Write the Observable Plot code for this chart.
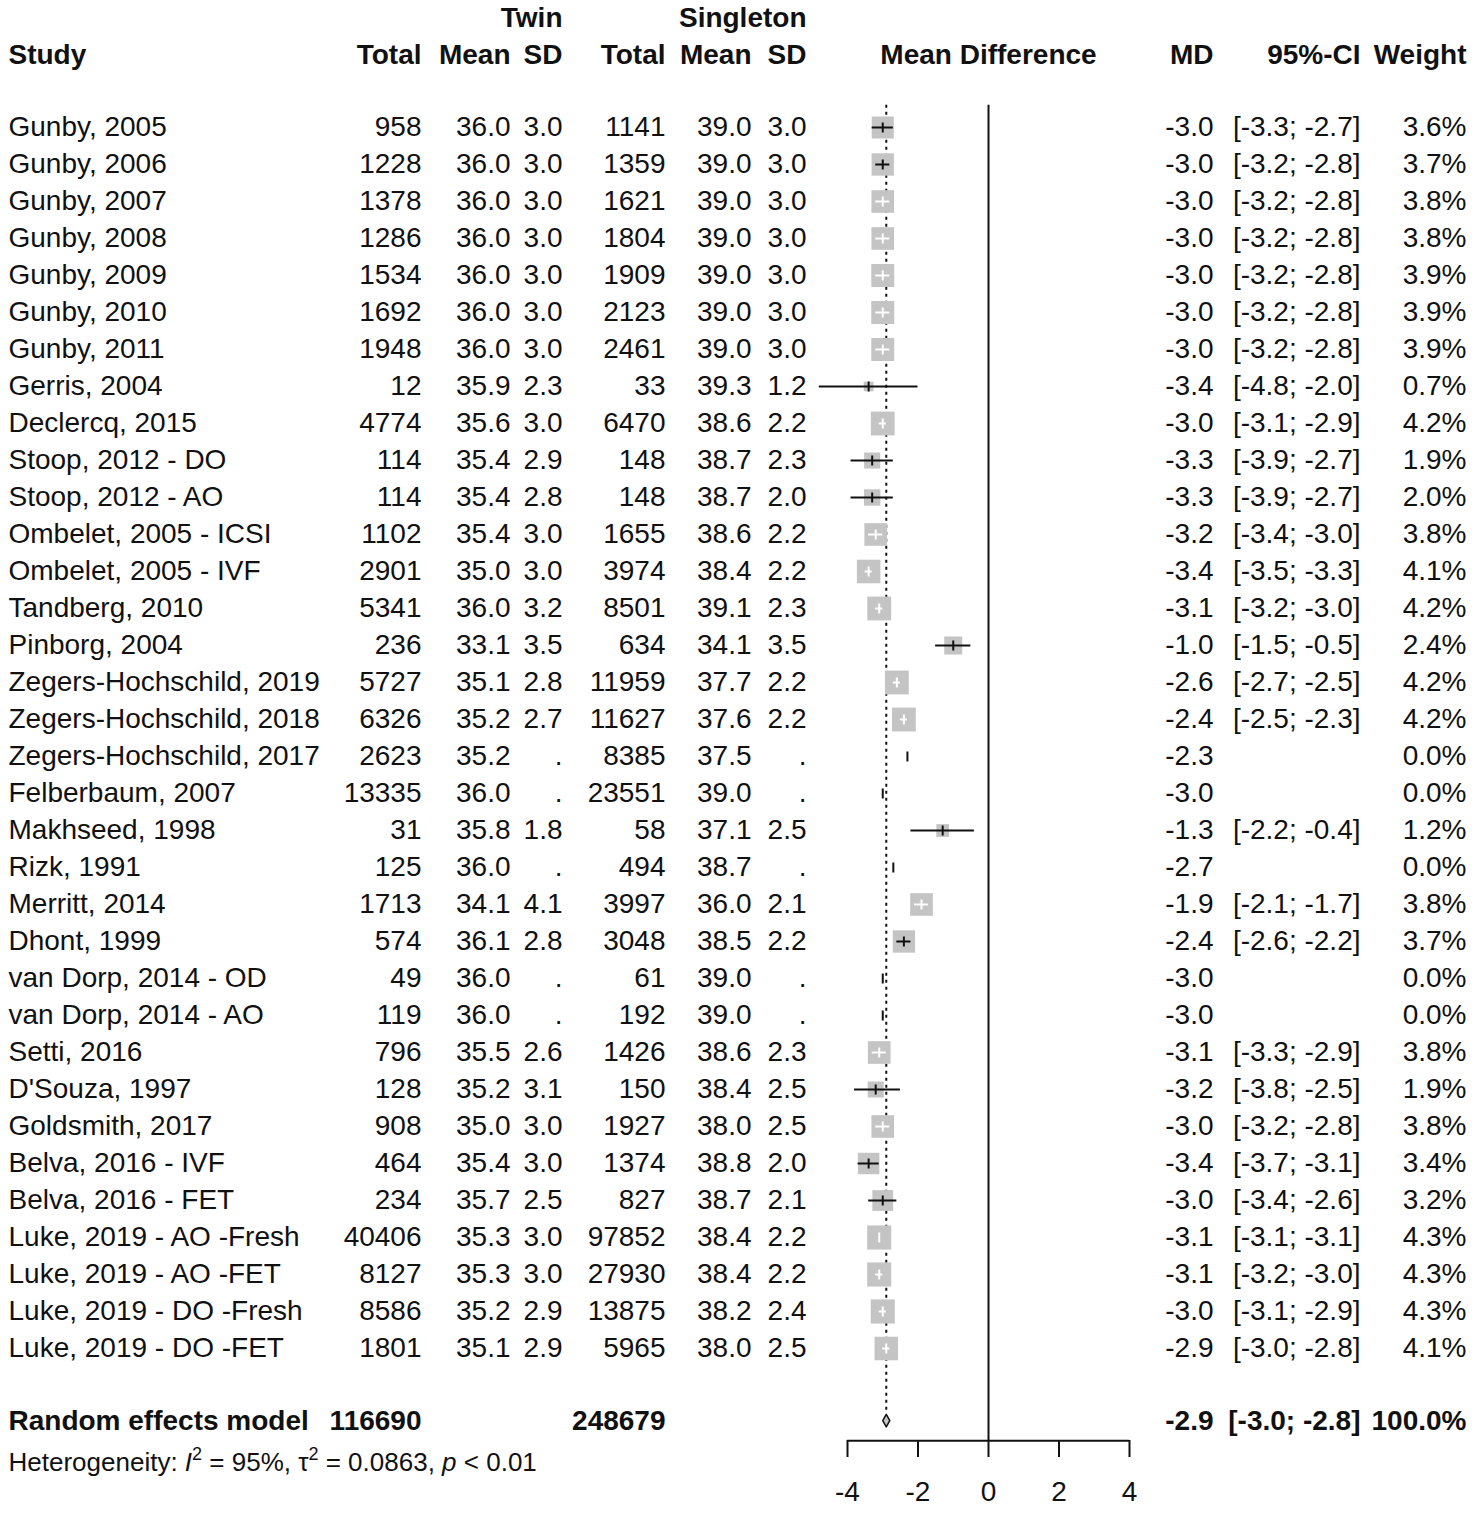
<!DOCTYPE html>
<html>
<head>
<meta charset="utf-8">
<script src="https://cdn.jsdelivr.net/npm/d3@7"></script>
<script src="https://cdn.jsdelivr.net/npm/@observablehq/plot@0.6"></script>
<style>
  html, body { margin: 0; padding: 0; background: #fff; }
</style>
</head>
<body>
<div id="chart"></div>
<script>
// ---------------- DATA ----------------
const studies = [
  "Gunby, 2005", "Gunby, 2006", "Gunby, 2007", "Gunby, 2008", "Gunby, 2009",
  "Gunby, 2010", "Gunby, 2011", "Gerris, 2004", "Declercq, 2015", "Stoop, 2012 - DO",
  "Stoop, 2012 - AO", "Ombelet, 2005 - ICSI", "Ombelet, 2005 - IVF", "Tandberg, 2010", "Pinborg, 2004",
  "Zegers-Hochschild, 2019", "Zegers-Hochschild, 2018", "Zegers-Hochschild, 2017", "Felberbaum, 2007", "Makhseed, 1998",
  "Rizk, 1991", "Merritt, 2014", "Dhont, 1999", "van Dorp, 2014 - OD", "van Dorp, 2014 - AO",
  "Setti, 2016", "D'Souza, 1997", "Goldsmith, 2017", "Belva, 2016 - IVF", "Belva, 2016 - FET",
  "Luke, 2019 - AO -Fresh", "Luke, 2019 - AO -FET", "Luke, 2019 - DO -Fresh", "Luke, 2019 - DO -FET"
];
const twinTotal = [958, 1228, 1378, 1286, 1534, 1692, 1948, 12, 4774, 114, 114, 1102, 2901, 5341, 236,
  5727, 6326, 2623, 13335, 31, 125, 1713, 574, 49, 119, 796, 128, 908, 464, 234, 40406, 8127, 8586, 1801];
const twinMean = [36.0, 36.0, 36.0, 36.0, 36.0, 36.0, 36.0, 35.9, 35.6, 35.4, 35.4, 35.4, 35.0, 36.0, 33.1,
  35.1, 35.2, 35.2, 36.0, 35.8, 36.0, 34.1, 36.1, 36.0, 36.0, 35.5, 35.2, 35.0, 35.4, 35.7, 35.3, 35.3, 35.2, 35.1];
const twinSD = [3.0, 3.0, 3.0, 3.0, 3.0, 3.0, 3.0, 2.3, 3.0, 2.9, 2.8, 3.0, 3.0, 3.2, 3.5,
  2.8, 2.7, null, null, 1.8, null, 4.1, 2.8, null, null, 2.6, 3.1, 3.0, 3.0, 2.5, 3.0, 3.0, 2.9, 2.9];
const singTotal = [1141, 1359, 1621, 1804, 1909, 2123, 2461, 33, 6470, 148, 148, 1655, 3974, 8501, 634,
  11959, 11627, 8385, 23551, 58, 494, 3997, 3048, 61, 192, 1426, 150, 1927, 1374, 827, 97852, 27930, 13875, 5965];
const singMean = [39.0, 39.0, 39.0, 39.0, 39.0, 39.0, 39.0, 39.3, 38.6, 38.7, 38.7, 38.6, 38.4, 39.1, 34.1,
  37.7, 37.6, 37.5, 39.0, 37.1, 38.7, 36.0, 38.5, 39.0, 39.0, 38.6, 38.4, 38.0, 38.8, 38.7, 38.4, 38.4, 38.2, 38.0];
const singSD = [3.0, 3.0, 3.0, 3.0, 3.0, 3.0, 3.0, 1.2, 2.2, 2.3, 2.0, 2.2, 2.2, 2.3, 3.5,
  2.2, 2.2, null, null, 2.5, null, 2.1, 2.2, null, null, 2.3, 2.5, 2.5, 2.0, 2.1, 2.2, 2.2, 2.4, 2.5];
const md = [-3.0, -3.0, -3.0, -3.0, -3.0, -3.0, -3.0, -3.4, -3.0, -3.3, -3.3, -3.2, -3.4, -3.1, -1.0,
  -2.6, -2.4, -2.3, -3.0, -1.3, -2.7, -1.9, -2.4, -3.0, -3.0, -3.1, -3.2, -3.0, -3.4, -3.0, -3.1, -3.1, -3.0, -2.9];
const ciLow = [-3.3, -3.2, -3.2, -3.2, -3.2, -3.2, -3.2, -4.8, -3.1, -3.9, -3.9, -3.4, -3.5, -3.2, -1.5,
  -2.7, -2.5, null, null, -2.2, null, -2.1, -2.6, null, null, -3.3, -3.8, -3.2, -3.7, -3.4, -3.1, -3.2, -3.1, -3.0];
const ciHigh = [-2.7, -2.8, -2.8, -2.8, -2.8, -2.8, -2.8, -2.0, -2.9, -2.7, -2.7, -3.0, -3.3, -3.0, -0.5,
  -2.5, -2.3, null, null, -0.4, null, -1.7, -2.2, null, null, -2.9, -2.5, -2.8, -3.1, -2.6, -3.1, -3.0, -2.9, -2.8];
const weight = [3.6, 3.7, 3.8, 3.8, 3.9, 3.9, 3.9, 0.7, 4.2, 1.9, 2.0, 3.8, 4.1, 4.2, 2.4,
  4.2, 4.2, 0.0, 0.0, 1.2, 0.0, 3.8, 3.7, 0.0, 0.0, 3.8, 1.9, 3.8, 3.4, 3.2, 4.3, 4.3, 4.3, 4.1];

const pooledLabel = "Random effects model";
const pooledTwinTotal = 116690;
const pooledSingTotal = 248679;
const pooledMD = -2.9, pooledLow = -3.0, pooledHigh = -2.8, pooledWeight = 100.0;
const hetI2 = 95, hetTau2 = 0.0863, hetP = "< 0.01";
const xTicks = [-4, -2, 0, 2, 4];

// ---------------- LAYOUT ----------------
const W = 1481, H = 1521;
const FONT = "'Liberation Sans', Arial, Helvetica, sans-serif";
const FS = 28;
const INK = "#111";
const SQUARE = "#c4c4c4";

// vertical layout in row units (row 0 = first study, 1 row = 37px)
const GROUP_ROW = -2.97, HEADER_ROW = -1.95, TOP_ROW = -0.6;
const POOLED_ROW = 34.95, DOT_END_ROW = 34.7, AXIS_ROW = 35.49, HET_ROW = 36.08;

// text columns: right edge in px
const col = {
  study: 8, twinTotal: 421, twinMean: 510, twinSD: 562,
  singTotal: 665, singMean: 751, singSD: 806,
  md: 1213, ci: 1360, weight: 1466
};

const rows = studies.map((study, i) => ({
  row: i, study,
  tT: twinTotal[i], tM: twinMean[i], tS: twinSD[i],
  sT: singTotal[i], sM: singMean[i], sS: singSD[i],
  md: md[i], lo: ciLow[i], hi: ciHigh[i], w: weight[i]
}));

const f1 = v => v == null ? "." : v.toFixed(1);
const fCI = (lo, hi) => lo == null ? "" : `[${lo.toFixed(1)}; ${hi.toFixed(1)}]`;
const fW = w => w.toFixed(1) + "%";
const markColor = d => d.w >= 3.8 ? "#ffffff" : INK;

const vbar = {
  draw(context, size) {
    const h = Math.sqrt(size / Math.PI);
    context.moveTo(0, -h);
    context.lineTo(0, h);
  }
};

function colText(data, text, key, extra = {}) {
  return Plot.text(data, {
    frameAnchor: "left", dx: col[key], y: "row", text,
    textAnchor: "end", fontSize: FS, fill: INK, ...extra
  });
}

const headerRow = [{row: HEADER_ROW}];
const groupRow = [{row: GROUP_ROW}];
const pooledRow = [{row: POOLED_ROW}];
const bold = {fontWeight: "bold"};

const withCI = rows.filter(d => d.lo != null);
const withWeight = rows.filter(d => d.w > 0);
const diamondH = 0.17;
const diamond = [
  {x: pooledLow, y: POOLED_ROW}, {x: pooledMD, y: POOLED_ROW - diamondH},
  {x: pooledHigh, y: POOLED_ROW}, {x: pooledMD, y: POOLED_ROW + diamondH},
  {x: pooledLow, y: POOLED_ROW}
];

const chart = Plot.plot({
  width: W, height: H,
  marginTop: 0, marginLeft: 0, marginRight: 0, marginBottom: H - 1440,
  x: {domain: [xTicks[0], xTicks[xTicks.length - 1]], range: [847, 1129]},
  y: {domain: [0, 33], range: [127, 1348], axis: null},
  r: {type: "sqrt", domain: [0, 4.3], range: [0, 13.6]},
  style: {fontFamily: FONT, fontSize: FS + "px", background: "#fff", color: INK},
  marks: [
    // reference lines
    Plot.ruleX([pooledMD], {x: d => d, y1: TOP_ROW, y2: DOT_END_ROW, stroke: INK, strokeWidth: 2, strokeDasharray: "3,4"}),
    Plot.ruleX([0], {x: d => d, y1: TOP_ROW, y2: AXIS_ROW, stroke: INK, strokeWidth: 2}),
    // squares
    Plot.dot(withWeight, {x: "md", y: "row", r: "w", symbol: "square", fill: SQUARE, stroke: null}),
    // CI lines
    Plot.ruleY(withCI, {y: "row", x1: "lo", x2: "hi", stroke: markColor, strokeWidth: 2}),
    // estimate ticks
    Plot.dot(rows, {x: "md", y: "row", symbol: vbar, r: 5, fill: "none", stroke: markColor, strokeWidth: 2}),
    // pooled diamond
    Plot.line(diamond, {x: "x", y: "y", fill: SQUARE, stroke: INK, strokeWidth: 1.5}),
    // axis
    Plot.ruleY([AXIS_ROW], {y: d => d, x1: xTicks[0], x2: xTicks[xTicks.length - 1], stroke: INK, strokeWidth: 2}),
    Plot.axisX({ticks: xTicks, tickSize: 17, tickPadding: 24, tickFormat: d => String(d), fontSize: FS, strokeWidth: 2, label: null}),

    // group headers
    colText(groupRow, () => "Twin", "twinSD", bold),
    colText(groupRow, () => "Singleton", "singSD", bold),
    // column headers
    colText(headerRow, () => "Study", "study", {...bold, textAnchor: "start"}),
    colText(headerRow, () => "Total", "twinTotal", bold),
    colText(headerRow, () => "Mean", "twinMean", bold),
    colText(headerRow, () => "SD", "twinSD", bold),
    colText(headerRow, () => "Total", "singTotal", bold),
    colText(headerRow, () => "Mean", "singMean", bold),
    colText(headerRow, () => "SD", "singSD", bold),
    Plot.text(headerRow, {x: () => 0, y: "row", text: () => "Mean Difference", fontSize: FS, fontWeight: "bold", fill: INK}),
    colText(headerRow, () => "MD", "md", bold),
    colText(headerRow, () => "95%-CI", "ci", bold),
    colText(headerRow, () => "Weight", "weight", bold),

    // study rows
    colText(rows, "study", "study", {textAnchor: "start"}),
    colText(rows, d => String(d.tT), "twinTotal"),
    colText(rows, d => f1(d.tM), "twinMean"),
    colText(rows, d => f1(d.tS), "twinSD"),
    colText(rows, d => String(d.sT), "singTotal"),
    colText(rows, d => f1(d.sM), "singMean"),
    colText(rows, d => f1(d.sS), "singSD"),
    colText(rows, d => f1(d.md), "md"),
    colText(rows, d => fCI(d.lo, d.hi), "ci"),
    colText(rows, d => fW(d.w), "weight"),

    // pooled row
    colText(pooledRow, () => pooledLabel, "study", {...bold, textAnchor: "start"}),
    colText(pooledRow, () => String(pooledTwinTotal), "twinTotal", bold),
    colText(pooledRow, () => String(pooledSingTotal), "singTotal", bold),
    colText(pooledRow, () => pooledMD.toFixed(1), "md", bold),
    colText(pooledRow, () => fCI(pooledLow, pooledHigh), "ci", bold),
    colText(pooledRow, () => pooledWeight.toFixed(1) + "%", "weight", bold),

    // heterogeneity
    colText([{row: HET_ROW}], () => `Heterogeneity: I2 = ${hetI2}%, τ2 = ${hetTau2}, p ${hetP}`, "study", {textAnchor: "start", fontSize: 26})
  ]
});

document.getElementById("chart").appendChild(chart);

// rich formatting of the heterogeneity line (italic symbols, superscripts)
d3.select(chart).selectAll("text")
  .filter(function() { return this.textContent.startsWith("Heterogeneity"); })
  .each(function() {
    const t = d3.select(this);
    t.text(null);
    t.append("tspan").text("Heterogeneity: ");
    t.append("tspan").attr("font-style", "italic").text("I");
    t.append("tspan").attr("dy", -11).attr("font-size", 18).text("2");
    t.append("tspan").attr("dy", 11).text(` = ${hetI2}%, τ`);
    t.append("tspan").attr("dy", -11).attr("font-size", 18).text("2");
    t.append("tspan").attr("dy", 11).text(` = ${hetTau2}, `);
    t.append("tspan").attr("font-style", "italic").text("p");
    t.append("tspan").text(` ${hetP}`);
  });
</script>
</body>
</html>
